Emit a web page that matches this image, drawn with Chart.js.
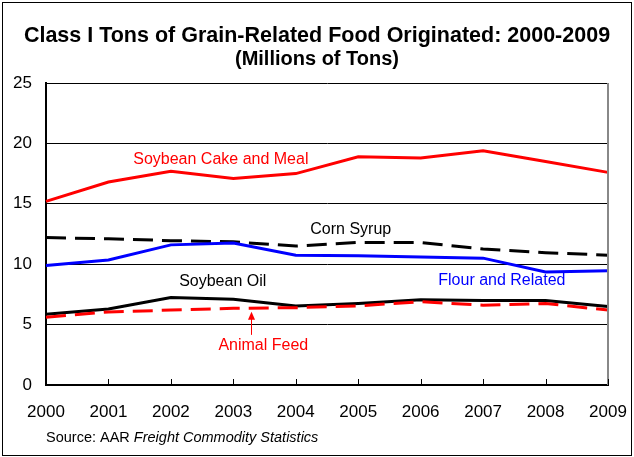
<!DOCTYPE html>
<html>
<head>
<meta charset="utf-8">
<title>Class I Tons of Grain-Related Food Originated</title>
<script src="https://cdn.jsdelivr.net/npm/chart.js@4.4.1/dist/chart.umd.min.js"></script>
<style>
  html, body { margin: 0; padding: 0; background: #fff; }
  #wrap { width: 634px; height: 457px; position: relative; }
</style>
</head>
<body>
<div id="wrap"><canvas id="grain-chart" width="634" height="457"></canvas></div>
<script>
var years = ['2000', '2001', '2002', '2003', '2004', '2005', '2006', '2007', '2008', '2009'];
var yTicks = [0, 5, 10, 15, 20, 25];

// millions of tons
var soybeanCake = [15.2, 16.8, 17.7, 17.1, 17.5, 18.9, 18.8, 19.4, 18.5, 17.6];
var cornSyrup = [12.2, 12.1, 11.95, 11.85, 11.5, 11.8, 11.8, 11.25, 10.95, 10.75];
var flour = [9.9, 10.35, 11.6, 11.75, 10.75, 10.7, 10.6, 10.5, 9.35, 9.45];
var soybeanOil = [5.85, 6.3, 7.25, 7.1, 6.55, 6.75, 7.05, 7.0, 7.0, 6.5];
var animalFeed = [5.6, 6.05, 6.2, 6.35, 6.4, 6.55, 6.9, 6.6, 6.75, 6.2];

// series captions, placed at (category index, value)
var captions = [
  { text: 'Soybean Cake and Meal', x: 2.8, y: 18.7, color: '#ff0000' },
  { text: 'Corn Syrup', x: 4.88, y: 12.9, color: '#000000' },
  { text: 'Soybean Oil', x: 2.83, y: 8.6, color: '#000000' },
  { text: 'Flour and Related', x: 7.3, y: 8.63, color: '#0000ff' },
  { text: 'Animal Feed', x: 3.48, y: 3.25, color: '#ff0000' }
];
var feedArrow = { x: 3.29, from: 4.15, to: 6.07 };

(function () {
  var FONT = '"Liberation Sans", Arial, sans-serif';

  var decorations = {
    id: 'decorations',
    afterDraw: function (chart) {
      var ctx = chart.ctx;
      var area = chart.chartArea;
      var xs = chart.scales.x;
      var ys = chart.scales.y;

      ctx.save();

      // outer frame
      ctx.strokeStyle = '#000';
      ctx.lineWidth = 1;
      ctx.strokeRect(2.5, 2.5, 629, 453);

      // titles
      ctx.fillStyle = '#000';
      ctx.textAlign = 'center';
      ctx.textBaseline = 'middle';
      ctx.font = 'bold 21.5px ' + FONT;
      ctx.fillText('Class I Tons of Grain-Related Food Originated: 2000-2009', 317, 36);
      ctx.font = 'bold 20px ' + FONT;
      ctx.fillText('(Millions of Tons)', 317, 59);

      // right edge of the plot
      ctx.strokeStyle = '#888';
      ctx.lineWidth = 2;
      ctx.beginPath();
      ctx.moveTo(area.right, area.top);
      ctx.lineTo(area.right, area.bottom);
      ctx.stroke();

      // inward tick marks on the year axis
      ctx.strokeStyle = '#000';
      ctx.lineWidth = 1;
      ctx.beginPath();
      for (var i = 1; i < years.length; i++) {
        var px = Math.round(xs.getPixelForValue(i)) + 0.5;
        ctx.moveTo(px, area.bottom);
        ctx.lineTo(px, area.bottom - 6);
      }
      ctx.stroke();

      // series captions
      ctx.font = '16px ' + FONT;
      captions.forEach(function (c) {
        ctx.fillStyle = c.color;
        ctx.fillText(c.text, xs.getPixelForValue(c.x), ys.getPixelForValue(c.y));
      });

      // arrow to the animal feed line
      var ax = Math.round(xs.getPixelForValue(feedArrow.x)) + 0.5;
      var ay0 = ys.getPixelForValue(feedArrow.from);
      var ay1 = ys.getPixelForValue(feedArrow.to);
      ctx.strokeStyle = '#ff0000';
      ctx.fillStyle = '#ff0000';
      ctx.lineWidth = 1;
      ctx.beginPath();
      ctx.moveTo(ax, ay0);
      ctx.lineTo(ax, ay1 + 6);
      ctx.stroke();
      ctx.beginPath();
      ctx.moveTo(ax, ay1);
      ctx.lineTo(ax - 3.5, ay1 + 8);
      ctx.lineTo(ax + 3.5, ay1 + 8);
      ctx.closePath();
      ctx.fill();

      // source line
      ctx.textAlign = 'left';
      ctx.fillStyle = '#000';
      ctx.font = '14.5px ' + FONT;
      var lead = 'Source: AAR ';
      ctx.fillText(lead, 46, 438);
      var w = ctx.measureText(lead).width;
      ctx.font = 'italic 14.5px ' + FONT;
      ctx.fillText('Freight Commodity Statistics', 46 + w, 438);

      ctx.restore();
    }
  };

  function series(label, data, color, dashed) {
    return {
      label: label,
      data: data,
      borderColor: color,
      backgroundColor: color,
      borderWidth: 3,
      borderDash: dashed ? [20, 9] : [],
      pointRadius: 0,
      tension: 0,
      fill: false
    };
  }

  var chartContext = document.getElementById('grain-chart');

  var grainChart = new Chart(chartContext, {
    type: 'line',
    data: {
      labels: years,
      datasets: [
        series('Animal Feed', animalFeed, '#ff0000', true),
        series('Soybean Oil', soybeanOil, '#000000', false),
        series('Flour and Related', flour, '#0000ff', false),
        series('Corn Syrup', cornSyrup, '#000000', true),
        series('Soybean Cake and Meal', soybeanCake, '#ff0000', false)
      ]
    },
    options: {
      responsive: false,
      animation: false,
      events: [],
      layout: { padding: { top: 83, right: 26, bottom: 32, left: 0 } },
      plugins: {
        legend: { display: false },
        title: { display: false },
        tooltip: { enabled: false }
      },
      scales: {
        x: {
          grid: { display: false, drawTicks: false },
          border: { display: true, color: '#000', width: 2 },
          ticks: {
            color: '#000',
            font: { family: FONT, size: 17 },
            padding: 17,
            maxRotation: 0,
            autoSkip: false
          },
          afterFit: function (scale) {
            scale.height = 40;
            scale.paddingLeft = 0;
            scale.paddingRight = 0;
          }
        },
        y: {
          min: 0,
          max: 25,
          afterBuildTicks: function (scale) {
            scale.ticks = yTicks.map(function (v) { return { value: v }; });
          },
          grid: { color: '#000', lineWidth: 1, drawTicks: false },
          border: { display: true, color: '#000', width: 2 },
          ticks: {
            color: '#000',
            font: { family: FONT, size: 17 },
            padding: 14
          },
          afterFit: function (scale) { scale.width = 46; }
        }
      }
    },
    plugins: [decorations]
  });
}());
</script>
</body>
</html>
